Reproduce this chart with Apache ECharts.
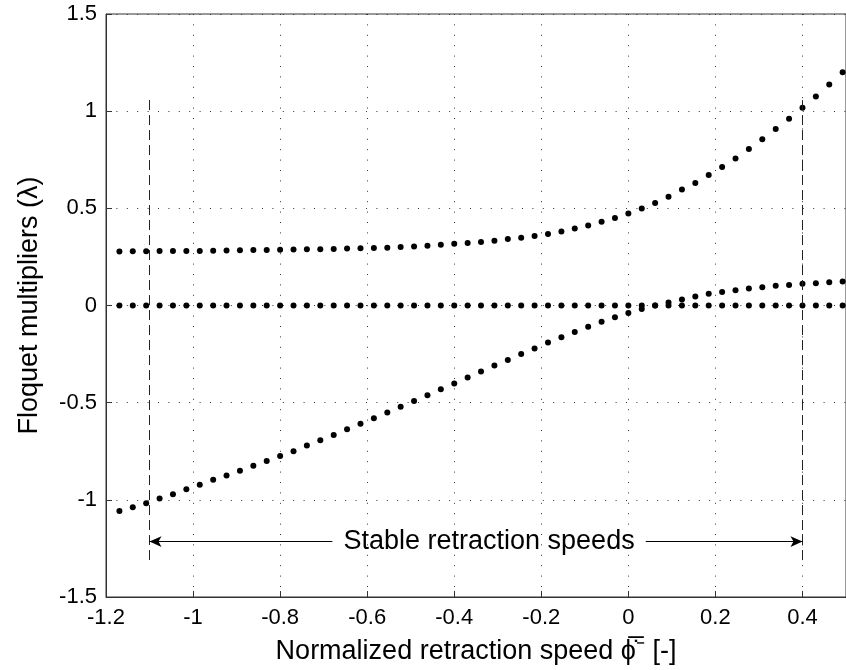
<!DOCTYPE html>
<html>
<head>
<meta charset="utf-8">
<script src="https://cdn.jsdelivr.net/npm/echarts@6/dist/echarts.min.js"></script>
<style>
html,body{margin:0;padding:0;background:#fff;}
#chart{width:846px;height:670px;}
</style>
</head>
<body>
<div id="chart"></div>
<script>
// Normalized retraction speed samples
var speeds = [-1.1692,-1.1385,-1.1077,-1.0769,-1.0462,-1.0154,-0.9846,-0.9538,-0.9231,-0.8923,
  -0.8615,-0.8308,-0.8,-0.7692,-0.7385,-0.7077,-0.6769,-0.6462,-0.6154,-0.5846,
  -0.5538,-0.5231,-0.4923,-0.4615,-0.4308,-0.4,-0.3692,-0.3385,-0.3077,-0.2769,
  -0.2462,-0.2154,-0.1846,-0.1538,-0.1231,-0.0923,-0.0615,-0.0308,0,0.0308,
  0.0615,0.0923,0.1231,0.1538,0.1846,0.2154,0.2462,0.2769,0.3077,0.3385,
  0.3692,0.4,0.4308,0.4615,0.4923];
// Floquet multiplier branches
var upperBranch = [0.278,0.279,0.279,0.280,0.280,0.281,0.281,0.282,0.283,0.284,
  0.285,0.286,0.287,0.288,0.289,0.290,0.291,0.293,0.294,0.296,
  0.297,0.301,0.304,0.308,0.313,0.318,0.321,0.327,0.333,0.342,
  0.349,0.357,0.368,0.381,0.396,0.412,0.431,0.450,0.473,0.499,
  0.528,0.559,0.597,0.631,0.672,0.713,0.757,0.805,0.855,0.908,
  0.961,1.017,1.075,1.137,1.200];
var zeroBranch = [0,0,0,0,0,0,0,0,0,0, 0,0,0,0,0,0,0,0,0,0,
  0,0,0,0,0,0,0,0,0,0, 0,0,0,0,0,0,0,0,0,0,
  0,0,0,0,0,0,0,0,0,0, 0,0,0,0,0];
var lowerBranch = [-1.058,-1.038,-1.017,-0.993,-0.971,-0.945,-0.923,-0.897,-0.875,-0.850,
  -0.824,-0.800,-0.774,-0.750,-0.721,-0.694,-0.667,-0.637,-0.609,-0.580,
  -0.551,-0.521,-0.492,-0.462,-0.431,-0.402,-0.371,-0.340,-0.309,-0.280,
  -0.250,-0.221,-0.191,-0.164,-0.137,-0.109,-0.084,-0.060,-0.039,-0.018,
  0.000,0.015,0.031,0.046,0.061,0.070,0.079,0.087,0.094,0.101,
  0.106,0.112,0.115,0.119,0.123];
// Annotation (data units)
var stableBounds = [-1.1, 0.4];
var boundSpan = [-1.31, 1.08];
var arrowLevel = -1.215;
var arrowGap = [-0.68, 0.04];
var annotationText = 'Stable retraction speeds';
var annotationX = -0.32;

function pairs(xs, ys){ var out=[]; for(var i=0;i<xs.length;i++) out.push([xs[i], ys[i]]); return out; }

var FONT = "'Liberation Sans', Arial, Helvetica, sans-serif";
var gridLine = {show:true, lineStyle:{color:'#333', width:1, type:[1,9.4]}};
var chart = echarts.init(document.getElementById('chart'), null, {renderer:'canvas'});
var dotStyle = {color:'#000', opacity:1};

chart.setOption({
  animation:false,
  backgroundColor:'#fff',
  textStyle:{fontFamily:FONT},
  grid:{left:106, top:14, width:743, height:584, show:true, borderColor:'#333', borderWidth:1, backgroundColor:'transparent', containLabel:false},
  xAxis:{
    type:'value', min:-1.2, max:0.5, interval:0.2,
    axisLine:{show:true, onZero:false, lineStyle:{color:'#333', width:1}},
    axisTick:{show:true, inside:true, length:6, lineStyle:{color:'#333'}},
    axisLabel:{fontSize:22, color:'#000', margin:10, fontFamily:FONT, showMaxLabel:false},
    splitLine:gridLine,
    name:'Normalized retraction speed \u03D5\u0307\u0305\u207B [-]',
    nameLocation:'middle', nameGap:41,
    nameTextStyle:{fontSize:27, color:'#000', fontFamily:FONT}
  },
  yAxis:{
    type:'value', min:-1.5, max:1.5, interval:0.5,
    axisLine:{show:true, onZero:false, lineStyle:{color:'#333', width:1}},
    axisTick:{show:true, inside:true, length:6, lineStyle:{color:'#333'}},
    axisLabel:{fontSize:22, color:'#000', margin:9, fontFamily:FONT},
    splitLine:gridLine,
    name:'Floquet multipliers (\u03BB)',
    nameLocation:'middle', nameGap:63,
    nameTextStyle:{fontSize:27, color:'#000', fontFamily:FONT}
  },
  series:[
    {type:'scatter', symbol:'circle', symbolSize:6, itemStyle:dotStyle, data:pairs(speeds, zeroBranch), z:3},
    {type:'scatter', symbol:'circle', symbolSize:6, itemStyle:dotStyle, data:pairs(speeds, upperBranch), z:3},
    {type:'scatter', symbol:'circle', symbolSize:6, itemStyle:dotStyle, data:pairs(speeds, lowerBranch), z:3,
      markLine:{
        silent:true, symbol:'none', label:{show:false}, animation:false,
        lineStyle:{color:'#222', width:1, type:[10,5]},
        data:[
          [{coord:[stableBounds[0], boundSpan[0]]},{coord:[stableBounds[0], boundSpan[1]]}],
          [{coord:[stableBounds[1], boundSpan[0]]},{coord:[stableBounds[1], boundSpan[1]]}]
        ]
      }
    },
    {type:'scatter', data:[], 
      markLine:{
        silent:true, symbol:['none','arrow'], symbolSize:[8,12], label:{show:false}, animation:false,
        lineStyle:{color:'#000', width:1, type:'solid'},
        data:[
          [{coord:[arrowGap[0], arrowLevel]},{coord:[stableBounds[0], arrowLevel]}],
          [{coord:[arrowGap[1], arrowLevel]},{coord:[stableBounds[1], arrowLevel]}]
        ]
      },
      markPoint:{
        silent:true, symbol:'circle', symbolSize:0, animation:false,
        label:{show:true, position:'inside', formatter:annotationText, fontSize:27, color:'#000', fontFamily:FONT},
        data:[{coord:[annotationX, arrowLevel]}]
      }
    }
  ]
});
</script>
</body>
</html>
